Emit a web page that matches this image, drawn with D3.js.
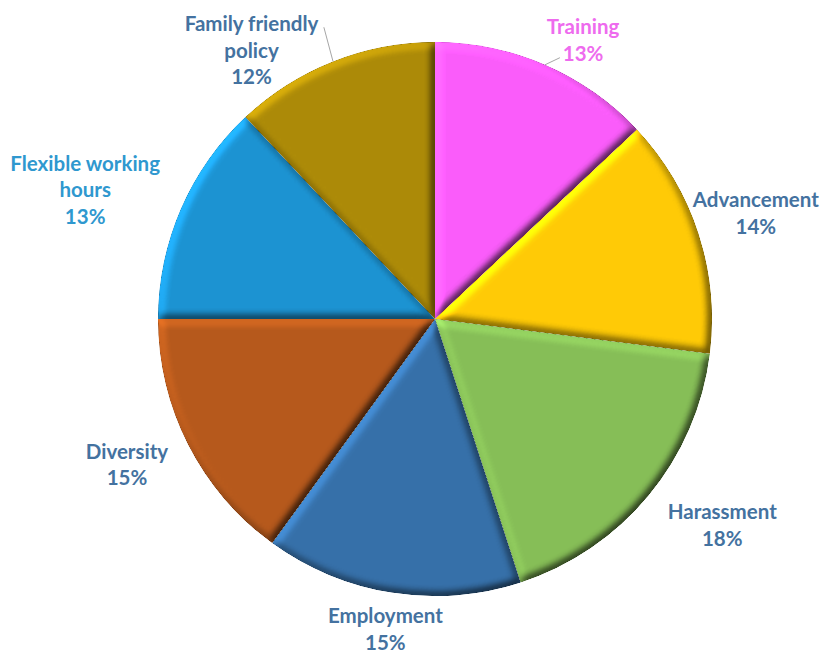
<!DOCTYPE html>
<html>
<head>
<meta charset="utf-8">
<script src="https://cdn.jsdelivr.net/npm/d3@7/dist/d3.min.js"></script>
<style>
  html, body { margin: 0; padding: 0; background: #ffffff; }
  svg { display: block; }
</style>
</head>
<body>
<svg id="chart" width="822" height="655"></svg>
<script>
// Survey topics and their share of responses (percent)
const categories = ["Training", "Advancement", "Harassment", "Employment",
                    "Diversity", "Flexible working hours", "Family friendly policy"];
const shares = [13, 14, 18, 15, 15, 13, 12];

// Slice fills and label colours, in category order
const sliceColors = ["#FA5CFA", "#FFCA06", "#86BE57", "#3670A9", "#B6591C", "#1C93D2", "#AC8A08"];
const labelColors = ["#EE6BEE", "#4472A0", "#4472A0", "#4472A0", "#4472A0", "#2F98CF", "#4472A0"];

// Label placement: offset of each label block from its anchor on the label ring
const labelNudge = [[17, 24], [7, -4], [33, -4], [2, -16], [-14, -4], [-47, 2], [-62, 38]];
// Leader lines: label index -> attachment point as fractions of the label box
const leaderTo = { 0: [0.18, 0.86], 6: [1.04, 0.21] };

const W = 822, H = 655;
const cx = 435, cy = 319, radius = 277, labelRing = 330;
const fontSize = 20.5, lineHeight = 26.5, wrapWidth = 165;

const svg = d3.select("#chart");

// Bevel: light from the upper left falling on a blurred copy of each slice's alpha
const defs = svg.append("defs");
const f = defs.append("filter")
  .attr("id", "bevel")
  .attr("filterUnits", "userSpaceOnUse")
  .attr("x", -cx).attr("y", -cy).attr("width", W).attr("height", H)
  .attr("color-interpolation-filters", "sRGB");
f.append("feGaussianBlur").attr("in", "SourceAlpha").attr("stdDeviation", 4).attr("result", "blur");
f.append("feDiffuseLighting")
  .attr("in", "blur").attr("surfaceScale", 5).attr("diffuseConstant", 1)
  .attr("lighting-color", "#ffffff").attr("result", "light")
  .append("feDistantLight").attr("azimuth", 225).attr("elevation", 45);
f.append("feComposite").attr("in", "light").attr("in2", "SourceAlpha")
  .attr("operator", "in").attr("result", "lightIn");
f.append("feComposite").attr("in", "SourceGraphic").attr("in2", "lightIn")
  .attr("operator", "arithmetic")
  .attr("k1", 0.9).attr("k2", 0.365).attr("k3", 0).attr("k4", 0);

const pie = d3.pie().sort(null).value(d => d);
const arcs = pie(shares);
const arc = d3.arc().innerRadius(0).outerRadius(radius);

const g = svg.append("g").attr("transform", `translate(${cx},${cy})`);

g.selectAll("path.slice")
  .data(arcs)
  .join("path")
  .attr("class", "slice")
  .attr("d", arc)
  .attr("fill", (d, i) => sliceColors[i])
  .attr("filter", "url(#bevel)");

const total = d3.sum(shares);
const pct = d3.format(".0%");

// Point on a circle of radius rr at pie angle a (0 = 12 o'clock, clockwise)
const polar = (a, rr) => [rr * Math.sin(a), -rr * Math.cos(a)];

const leaderLayer = g.append("g");
const labelLayer = g.append("g");

arcs.forEach((d, i) => {
  const mid = (d.startAngle + d.endAngle) / 2;
  const [bx, by] = polar(mid, labelRing);
  const x = bx + labelNudge[i][0];
  const y = by + labelNudge[i][1];

  const t = labelLayer.append("text")
    .attr("text-anchor", "middle")
    .attr("font-family", "Lato, 'Open Sans', sans-serif")
    .attr("font-weight", 700)
    .attr("font-size", fontSize)
    .attr("fill", labelColors[i]);

  // wrap the category name into lines no wider than wrapWidth
  const words = categories[i].split(" ");
  const lines = [];
  let cur = [];
  const probe = t.append("tspan");
  words.forEach(w => {
    const trial = cur.concat([w]).join(" ");
    probe.text(trial);
    if (cur.length && probe.node().getComputedTextLength() > wrapWidth) {
      lines.push(cur.join(" "));
      cur = [w];
    } else {
      cur.push(w);
    }
  });
  if (cur.length) lines.push(cur.join(" "));
  probe.remove();
  lines.push(pct(d.data / total));

  const y0 = y - (lines.length - 1) * lineHeight / 2;
  lines.forEach((ln, k) => {
    t.append("tspan")
      .attr("x", x)
      .attr("y", y0 + k * lineHeight)
      .attr("dy", "0.36em")
      .text(ln);
  });

  if (leaderTo[i]) {
    const bb = t.node().getBBox();
    const [sx, sy] = polar(mid, radius);
    const ex = bb.x + leaderTo[i][0] * bb.width;
    const ey = bb.y + leaderTo[i][1] * bb.height;
    leaderLayer.append("line")
      .attr("x1", sx).attr("y1", sy)
      .attr("x2", ex).attr("y2", ey)
      .attr("stroke", "#A6A6A6")
      .attr("stroke-width", 1);
  }
});
</script>
</body>
</html>
